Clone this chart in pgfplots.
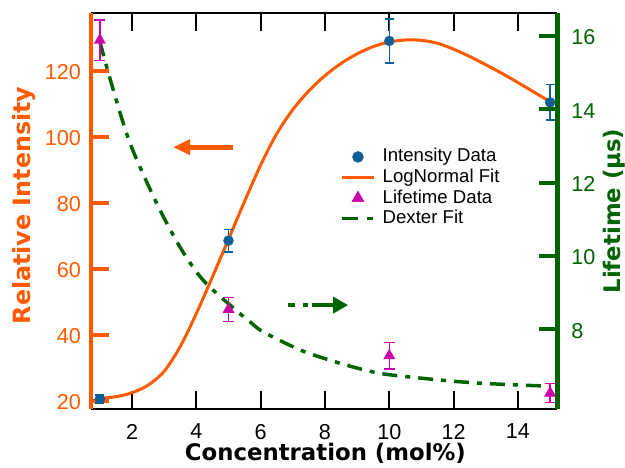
\documentclass[border=0pt]{standalone}
\usepackage{fontspec}
\setmainfont{Liberation Sans}
\newfontfamily\dejavu{DejaVu Sans}
\usepackage{pgfplots}
\pgfplotsset{compat=1.18}
\usetikzlibrary{arrows.meta}
\definecolor{orc}{RGB}{255,90,0}
\definecolor{grc}{RGB}{0,100,0}
\definecolor{blc}{RGB}{16,94,150}
\definecolor{mgc}{RGB}{204,0,170}
\newcommand\tickfont{\fontsize{21.6}{26}\selectfont}
\newcommand\legfont{\fontsize{18.6}{22}\selectfont}
\newcommand\labfont{\dejavu\bfseries\fontsize{22.8}{27}\selectfont}
\newcommand\ylabfont{\dejavu\bfseries\fontsize{23.8}{28}\selectfont}
\begin{document}
\begin{tikzpicture}
\path[use as bounding box] (-91pt,-57.7pt) rectangle (534pt,409.3pt);
\begin{axis}[
  at={(0,0)}, anchor=south west,
  scale only axis, width=466.5pt, height=396.6pt,
  xmin=0.7245, xmax=15.23, ymin=17.48, ymax=137.67,
  axis x line*=box, axis y line*=left,
  x axis line style={black, line width=2pt},
  y axis line style={orc, line width=4.5pt},
  tick align=inside, major tick length=18pt,
  xtick={2,4,...,14}, ytick={20,40,...,120},
  minor tick num=0,
  x tick style={black, line width=1.8pt},
  y tick style={orc, line width=4pt},
  /pgf/number format/assume math mode=true,
  xticklabel style={font=\tickfont, inner sep=0pt, anchor=north, yshift=-14.5pt},
  yticklabel style={font=\tickfont, text=orc, inner sep=0pt, anchor=east, xshift=-10pt, yshift=-1.5pt},
  xlabel={Concentration (mol\%)},
  ylabel={Relative Intensity},
  every axis x label/.style={at={(axis description cs:0.5025,-0.086)}, anchor=north, font=\labfont, inner sep=0pt},
  every axis y label/.style={at={(axis description cs:-0.1683,0.514)}, rotate=90, anchor=north, font=\ylabfont, text=orc, inner sep=0pt},
]
\addplot[orc, line width=3pt, smooth, forget plot] coordinates {
(1,20.8) (1.5,21.3) (2,22.5) (2.5,24.8) (3,29) (3.5,36.5) (4,46.5) (4.5,57.6) (5,69)
(5.5,80.5) (6,91.5) (6.5,101) (7,108.3) (7.5,114) (8,118.6) (8.5,122.3) (9,125.2) (9.5,127.4)
(10,128.8) (10.5,129.4) (11,129.3) (11.5,128.4) (12,126.6) (12.5,124.4) (13,121.9) (13.5,119.3)
(14,116.5) (14.5,113.6) (15,110.7)
};
\addplot[only marks, mark=*, mark size=5pt, blc, forget plot,
  error bars/.cd, y dir=both, y explicit,
  error bar style={blc, line width=1.5pt},
  error mark options={rotate=90, blc, line width=1.5pt, mark size=4.5pt}]
coordinates {(1,20.6) +- (0,1.2) (5,68.6) +- (0,3.4) (10,129.1) +- (0,6.6) (15,110.5) +- (0,5.4)};
\draw[orc, line width=5pt, -{Triangle[length=17pt,width=15pt]}] (axis cs:5.15,96.9) -- (axis cs:3.28,96.9);
\end{axis}
\begin{axis}[
  at={(0,0)}, anchor=south west,
  scale only axis, width=466.5pt, height=396.6pt,
  xmin=0.7245, xmax=15.23, ymin=5.82, ymax=16.63,
  axis x line=none, axis y line*=right,
  y axis line style={grc, line width=4.5pt},
  tick align=inside, major tick length=18pt,
  ytick={8,10,...,16}, minor tick num=0,
  y tick style={grc, line width=4pt},
  /pgf/number format/assume math mode=true,
  yticklabel style={font=\tickfont, text=grc, inner sep=0pt, anchor=west, xshift=13.7pt, yshift=-1.5pt},
  ylabel={Lifetime (µs)},
  every axis y label/.style={at={(axis description cs:1.0965,0.5)}, rotate=90, anchor=north, font=\labfont, text=grc, inner sep=0pt},
  legend image code/.code={\path[draw=none,fill=none] (0pt,-6pt) rectangle (32pt,6pt); \draw[mark repeat=2,mark phase=2,#1] plot coordinates {(0pt,0pt) (16pt,0pt) (32pt,0pt)};},
  legend style={at={(axis description cs:0.5338,0.6596)}, anchor=north west, draw=none, fill=none,
    inner sep=0pt, row sep=2.6pt, column sep=7pt, font=\legfont,
    nodes={inner sep=0pt, text height=14pt, text depth=4pt}},
  legend cell align=left,
]
\addlegendimage{only marks, mark=*, mark size=5.5pt, blc}
\addlegendentry{Intensity Data}
\addlegendimage{orc, line width=3pt}
\addlegendentry{LogNormal Fit}
\addlegendimage{only marks, mark=triangle*, mark size=7pt, mgc}
\addlegendentry{Lifetime Data}
\addlegendimage{grc, line width=3.5pt, dash pattern=on 15.7pt off 9pt on 6pt off 8pt}
\addlegendentry{Dexter Fit}
\addplot[grc, line width=3.5pt, smooth, dash pattern=on 15pt off 8pt on 5pt off 8pt, forget plot] coordinates {
(1,15.84) (1.36,14.70) (1.94,13.07) (2.77,11.43) (3.52,10.2) (4.21,9.34) (5.10,8.62) (5.66,8.21)
(6.08,7.93) (7.22,7.44) (8.15,7.16) (9.1,6.92) (9.85,6.78) (11.2,6.65) (12.5,6.55) (13.8,6.49) (15,6.45)
};
\addplot[only marks, mark=triangle*, mark size=6.5pt, mgc, forget plot,
  error bars/.cd, y dir=both, y explicit,
  error bar style={mgc, line width=1.5pt},
  error mark options={rotate=90, mgc, line width=1.5pt, mark size=5.5pt}]
coordinates {(1,15.88) +- (0,0.55) (5,8.54) +- (0,0.33) (10,7.28) +- (0,0.36) (15,6.26) +- (0,0.26)};
\draw[grc, line width=4.5pt, dash pattern=on 7pt off 7.7pt on 5.6pt off 3.4pt on 60pt, -{Triangle[length=15pt,width=16pt]}] (axis cs:6.85,8.66) -- (axis cs:8.72,8.66);
\end{axis}
\end{tikzpicture}
\end{document}
